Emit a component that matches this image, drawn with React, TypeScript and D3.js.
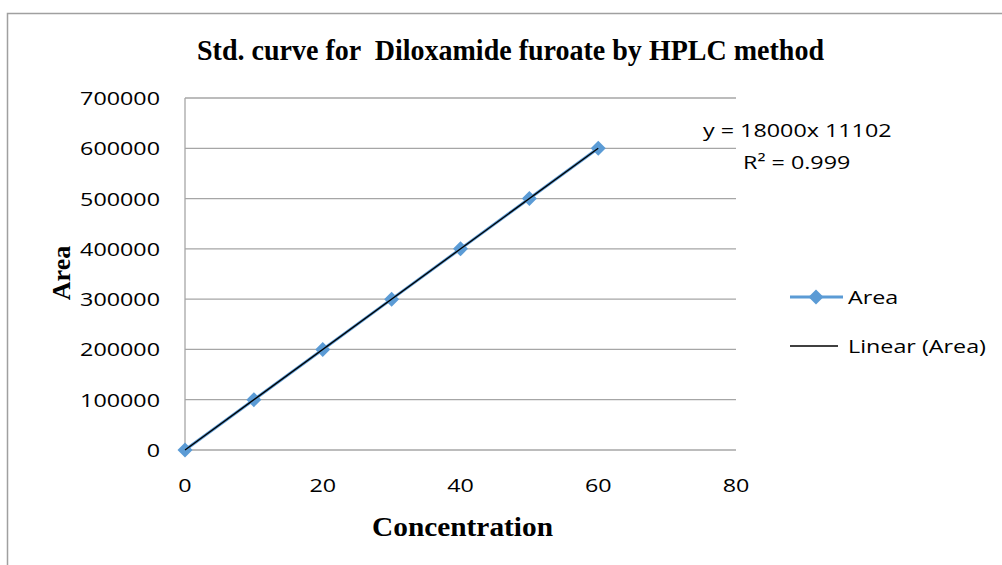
import * as d3 from "d3";

const concentrations = [0, 10, 20, 30, 40, 50, 60];
const areas = [0, 100000, 200000, 300000, 400000, 500000, 600000];
const xTicks = [0, 20, 40, 60, 80];
const yTicks = [0, 100000, 200000, 300000, 400000, 500000, 600000, 700000];
const equationText = "y = 18000x 11102";
const r2Text = "R² = 0.999";

const WIDTH = 1002;
const HEIGHT = 565;
const PLOT = { left: 185, right: 736, top: 98, bottom: 450 };
const BLUE = "#5b9bd5";
const GRID = "#a6a6a6";
const SANS = "'Open Sans', 'Liberation Sans', sans-serif";
const SERIF = "'Liberation Serif', 'Times New Roman', serif";
const STRETCH = 1.26; // the original labels are wide, so stretch them sideways

function diamond(cx: number, cy: number, r: number) {
  return `M${cx},${cy - r}L${cx + r},${cy}L${cx},${cy + r}L${cx - r},${cy}Z`;
}

type LabelProps = {
  x: number;
  y: number;
  anchor?: "start" | "middle" | "end";
  baseline?: string;
  children: string | number;
};

// sans label, widened like the source chart
function Label({ x, y, anchor = "start", baseline = "central", children }: LabelProps) {
  return (
    <text
      transform={`translate(${x},${y}) scale(${STRETCH},1)`}
      textAnchor={anchor}
      dominantBaseline={baseline}
      fontFamily={SANS}
      fontSize={18.5}
      fill="black"
    >
      {children}
    </text>
  );
}

export default function App() {
  const xScale = d3.scaleLinear().domain([0, 80]).range([PLOT.left, PLOT.right]);
  const yScale = d3.scaleLinear().domain([0, 700000]).range([PLOT.bottom, PLOT.top]);

  // least squares trend line
  const mx = d3.mean(concentrations) ?? 0;
  const my = d3.mean(areas) ?? 0;
  const sxy = d3.sum(concentrations, (x, i) => (x - mx) * (areas[i] - my));
  const sxx = d3.sum(concentrations, (x) => (x - mx) ** 2);
  const slope = sxy / sxx;
  const intercept = my - slope * mx;
  const xExt = d3.extent(concentrations) as [number, number];

  const line = d3
    .line<number>()
    .x((d) => xScale(d))
    .y((d, i) => yScale(areas[i]));

  return (
    <svg width={WIDTH} height={HEIGHT} style={{ position: "absolute", left: 0, top: 0 }}>
      <rect x={0} y={0} width={WIDTH} height={HEIGHT} fill="white" />
      <path d={`M7.5,${HEIGHT}V13.5H${WIDTH}`} fill="none" stroke="#a0a0a0" strokeWidth={1.5} />

      <text
        x={197}
        y={60}
        textLength={627}
        lengthAdjust="spacingAndGlyphs"
        fontFamily={SERIF}
        fontWeight="bold"
        fontSize={29}
        style={{ whiteSpace: "pre" }}
      >
        {"Std. curve for  Diloxamide furoate by HPLC method"}
      </text>

      {yTicks.map((t) => (
        <g key={t}>
          <line x1={PLOT.left} x2={PLOT.right} y1={yScale(t)} y2={yScale(t)} stroke={GRID} strokeWidth={1.3} />
          <Label x={160} y={yScale(t)} anchor="end">
            {t}
          </Label>
        </g>
      ))}
      <line x1={PLOT.left} x2={PLOT.left} y1={PLOT.top} y2={PLOT.bottom} stroke={GRID} strokeWidth={1.3} />

      {xTicks.map((t) => (
        <Label key={t} x={xScale(t)} y={492} anchor="middle" baseline="auto">
          {t}
        </Label>
      ))}

      <path d={line(concentrations) ?? ""} fill="none" stroke={BLUE} strokeWidth={3} />
      {concentrations.map((c, i) => (
        <path key={c} d={diamond(xScale(c), yScale(areas[i]), 7.5)} fill={BLUE} />
      ))}
      <line
        x1={xScale(xExt[0])}
        y1={yScale(slope * xExt[0] + intercept)}
        x2={xScale(xExt[1])}
        y2={yScale(slope * xExt[1] + intercept)}
        stroke="black"
        strokeWidth={1.3}
      />

      <Label x={703} y={130}>
        {equationText}
      </Label>
      <Label x={743} y={162}>
        {r2Text}
      </Label>

      <text
        transform="translate(70,273) rotate(-90)"
        textAnchor="middle"
        fontFamily={SERIF}
        fontWeight="bold"
        fontSize={26}
      >
        Area
      </text>
      <text
        x={372}
        y={536}
        textLength={181}
        lengthAdjust="spacingAndGlyphs"
        fontFamily={SERIF}
        fontWeight="bold"
        fontSize={27}
      >
        Concentration
      </text>

      <line x1={790} x2={843} y1={297} y2={297} stroke={BLUE} strokeWidth={3} />
      <path d={diamond(816, 297, 7.5)} fill={BLUE} />
      <Label x={848} y={297}>
        Area
      </Label>
      <line x1={790} x2={838} y1={346} y2={346} stroke="black" strokeWidth={1.3} />
      <Label x={848} y={346}>
        Linear (Area)
      </Label>
    </svg>
  );
}
